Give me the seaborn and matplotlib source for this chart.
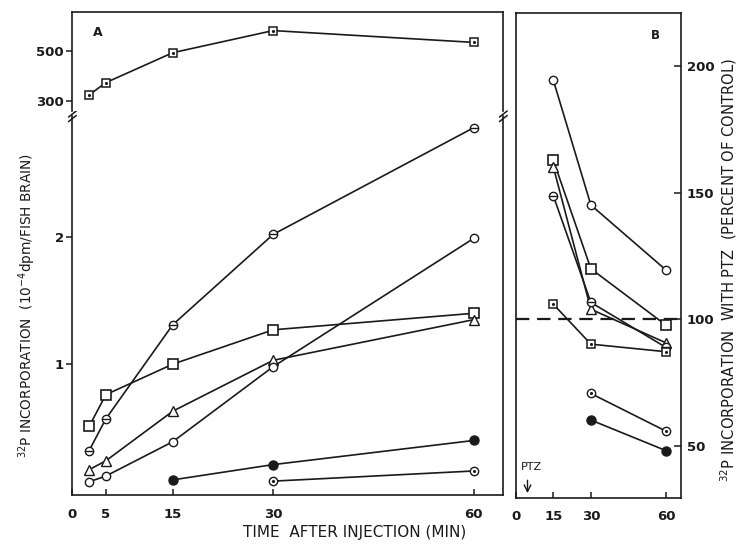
import matplotlib
matplotlib.use('Agg')
import matplotlib.pyplot as plt
import seaborn as sns

# ---- data ----
# panel A, lower part (10^-4 dpm / fish brain)
t_a = [2.5, 5, 15, 30, 60]
a_theta = [0.32, 0.57, 1.31, 2.02, 2.86]
a_square = [0.51, 0.76, 1.00, 1.27, 1.40]
a_triangle = [0.17, 0.24, 0.63, 1.03, 1.35]
a_circle = [0.075, 0.12, 0.39, 0.98, 1.99]
t_a_filled = [15, 30, 60]
a_filled = [0.09, 0.21, 0.40]
t_a_dot = [30, 60]
a_dotcirc = [0.08, 0.16]
# panel A, upper part
a_top_sqdot = [324, 373, 492, 580, 533]

# panel B (percent of control)
t_b = [15, 30, 60]
b_circle = [194.6, 145.2, 119.5]
b_square = [163, 120, 97.7]
b_triangle = [160.3, 104, 90.7]
b_theta = [148.9, 106.7, 88.9]
b_sqdot = [106, 90.2, 87.2]
t_b2 = [30, 60]
b_dotcirc = [70.7, 55.8]
b_filled = [60.2, 48.1]

a_xticks = [0, 5, 15, 30, 60]
b_xticks = [0, 15, 30, 60]

sns.set_theme(style='ticks')
plt.rcParams['font.family'] = ['DejaVu Sans']
plt.rcParams['text.color'] = 'k'

fig = plt.figure(figsize=(7.38, 5.48), dpi=100)
ax_lo = fig.add_axes([0.0981, 0.0967, 0.5839, 0.6925])
ax_hi = fig.add_axes([0.0981, 0.7974, 0.5839, 0.1812])
ax_b = fig.add_axes([0.6988, 0.0918, 0.224, 0.884])

LW = 1.2


def series(ax, x, y, kind):
    # outer symbol + line
    if kind == 'circle':
        sns.lineplot(x=x, y=y, ax=ax, color='k', lw=LW, marker='o', ms=6,
                     mfc='white', mec='k', mew=1)
    elif kind == 'theta':
        sns.lineplot(x=x, y=y, ax=ax, color='k', lw=LW, marker='o', ms=6,
                     mfc='white', mec='k', mew=1)
        ax.plot(x, y, ls='none', marker='_', ms=6, mew=1, color='k')
    elif kind == 'dotcirc':
        sns.lineplot(x=x, y=y, ax=ax, color='k', lw=LW, marker='o', ms=6,
                     mfc='white', mec='k', mew=1)
        ax.plot(x, y, ls='none', marker='.', ms=2.5, color='k')
    elif kind == 'filled':
        sns.lineplot(x=x, y=y, ax=ax, color='k', lw=LW, marker='o', ms=6.5,
                     mfc='k', mec='k', mew=1)
    elif kind == 'square':
        sns.lineplot(x=x, y=y, ax=ax, color='k', lw=LW, marker='s', ms=7,
                     mfc='white', mec='k', mew=1.2)
    elif kind == 'sqdot':
        sns.lineplot(x=x, y=y, ax=ax, color='k', lw=LW, marker='s', ms=6,
                     mfc='white', mec='k', mew=1.1)
        ax.plot(x, y, ls='none', marker='.', ms=2.5, color='k')
    elif kind == 'triangle':
        sns.lineplot(x=x, y=y, ax=ax, color='k', lw=LW, marker='^', ms=7.5,
                     mfc='white', mec='k', mew=1)


# ---- panel A ----
series(ax_hi, t_a, a_top_sqdot, 'sqdot')
series(ax_lo, t_a, a_theta, 'theta')
series(ax_lo, t_a, a_square, 'square')
series(ax_lo, t_a, a_triangle, 'triangle')
series(ax_lo, t_a, a_circle, 'circle')
series(ax_lo, t_a_filled, a_filled, 'filled')
series(ax_lo, t_a_dot, a_dotcirc, 'dotcirc')

for ax in (ax_lo, ax_hi):
    ax.set_xlim(0, 64.4)
    for s in ax.spines.values():
        s.set_linewidth(1.2)
        s.set_color('k')
    ax.set_xlabel('')
    ax.set_ylabel('')

ax_lo.set_ylim(-0.029, 2.955)
ax_hi.set_ylim(260, 655)
ax_lo.spines['top'].set_visible(False)
ax_hi.spines['bottom'].set_visible(False)
ax_hi.tick_params(axis='x', bottom=False, labelbottom=False)
ax_hi.set_yticks([300, 500])
ax_lo.set_yticks([1, 2])
ax_lo.set_yticklabels(['1', '2'])
ax_lo.set_xticks(a_xticks)

for ax in (ax_lo, ax_hi):
    ax.tick_params(axis='y', direction='out', length=4, width=1.1, pad=2,
                   labelsize=9.5, colors='k')
ax_lo.tick_params(axis='x', direction='in', length=4, width=1.1, pad=9,
                  labelsize=9.5, colors='k')
for lab in ax_lo.get_xticklabels() + ax_lo.get_yticklabels() + ax_hi.get_yticklabels():
    lab.set_fontweight('bold')

# axis break marks
d = 0.009
for x0 in (0, 1):
    for off in (0.004, -0.008):
        ax_lo.plot([x0 - d, x0 + d], [1 + off - 0.008, 1 + off + 0.008],
                   transform=ax_lo.transAxes, color='k', lw=1.1, clip_on=False)

ax_hi.text(0.059, 0.79, 'A', transform=ax_hi.transAxes, fontsize=9,
           ha='center', va='center', fontweight='bold')

# ---- panel B ----
ax_b.axhline(100, color='k', lw=1.6, ls=(0, (6, 3.5)))
series(ax_b, t_b, b_circle, 'circle')
series(ax_b, t_b, b_square, 'square')
series(ax_b, t_b, b_triangle, 'triangle')
series(ax_b, t_b, b_theta, 'theta')
series(ax_b, t_b, b_sqdot, 'sqdot')
series(ax_b, t_b2, b_dotcirc, 'dotcirc')
series(ax_b, t_b2, b_filled, 'filled')

ax_b.set_xlim(0, 66)
ax_b.set_ylim(29.5, 221)
ax_b.set_xticks(b_xticks)
ax_b.set_yticks([50, 100, 150, 200])
ax_b.yaxis.tick_right()
ax_b.tick_params(axis='y', direction='in', length=5, width=1.1, pad=4,
                 labelsize=9.5, colors='k')
ax_b.tick_params(axis='x', direction='in', length=4, width=1.1, pad=9,
                 labelsize=9.5, colors='k')
for lab in ax_b.get_xticklabels() + ax_b.get_yticklabels():
    lab.set_fontweight('bold')
for s in ax_b.spines.values():
    s.set_linewidth(1.2)
    s.set_color('k')
ax_b.set_xlabel('')
ax_b.set_ylabel('')

ax_b.text(0.843, 0.955, 'B', transform=ax_b.transAxes, fontsize=8.5,
          ha='center', va='center', fontweight='bold')
ax_b.text(6.3, 41.6, 'PTZ', fontsize=8, ha='center', va='center')
ax_b.annotate('', xy=(4.7, 30.2), xytext=(4.7, 37.5),
              arrowprops=dict(arrowstyle='->', color='k', lw=1))

# ---- labels ----
fig.text(0.037, 0.4425, '$^{32}$P INCORPORATION  (10$^{-4}$dpm/FISH BRAIN)',
         rotation=90, ha='center', va='center', fontsize=9.8)
fig.text(0.988, 0.507, '$^{32}$P INCORPORATION  WITH PTZ  (PERCENT OF CONTROL)',
         rotation=90, ha='center', va='center', fontsize=10.6)
fig.text(0.481, 0.029, 'TIME  AFTER INJECTION (MIN)', ha='center',
         va='center', fontsize=11)

fig.savefig('out.png', dpi=100)
